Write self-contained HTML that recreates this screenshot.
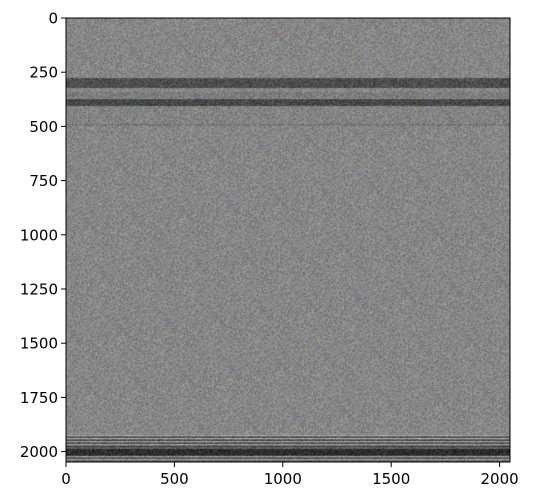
<!DOCTYPE html>
<html><head><meta charset="utf-8"><style>
body{margin:0;background:#fff;width:533px;height:504px;overflow:hidden;font-family:"DejaVu Sans",sans-serif}
#wrap{position:relative;width:533px;height:504px}
canvas{position:absolute;left:66px;top:18px}
svg{position:absolute;left:0;top:0}
</style></head><body><div id="wrap">
<canvas id="img" width="444" height="444"></canvas>
<svg id="ax" width="533" height="504"></svg>
</div>
<script>
// image row bands: start row, end row, gray level (0-255)
const bandStart=[0,  277,341,374,406,490,1923,1930,1937,1944,1951,1958,1965,1972,1979,1988,2020,2027,2034,2041];
const bandEnd  =[277,323,369,406,490,496,1930,1937,1944,1951,1958,1965,1972,1979,1988,2020,2027,2034,2041,2048];
const bandLevel=[135,78, 125,72, 132,112,165, 70, 170, 65, 160, 70, 165, 65, 95, 45, 155, 75, 160, 85];
const xTicks=[0,500,1000,1500,2000];
const yTicks=[0,250,500,750,1000,1250,1500,1750,2000];
const N=2048, L=66, T=18, W=444, H=444;
const sx=v=>L+v/N*W, sy=v=>T+v/N*H;
const c=document.getElementById('img').getContext('2d');
c.fillStyle='rgb(135,135,135)';c.fillRect(0,0,W,H);
for(let i=0;i<bandStart.length;i++){
  const y0=sy(bandStart[i])-T,y1=sy(bandEnd[i])-T,g=bandLevel[i];
  c.fillStyle=`rgb(${g},${g},${g})`;c.fillRect(0,y0,W,Math.max(1,y1-y0));
}
// texture noise (seeded)
let s=12345;const r=()=>(s=(s*1103515245+12345)&0x7fffffff)/0x7fffffff;
const id=c.getImageData(0,0,W,H),d=id.data;
for(let p=0;p<d.length;p+=4){const n=(r()-0.5)*40;d[p]+=n+(r()-0.5)*30;d[p+1]+=n+(r()-0.5)*30;d[p+2]+=n+(r()-0.5)*30;}
c.putImageData(id,0,0);
const svg=document.getElementById('ax'),NS='http://www.w3.org/2000/svg';
function el(t,a,txt){const e=document.createElementNS(NS,t);for(const k in a)e.setAttribute(k,a[k]);if(txt!=null)e.textContent=txt;svg.appendChild(e);return e;}
const fr=el('rect',{x:L,y:T,width:W,height:H,fill:'none',stroke:'#000','stroke-width':1});


xTicks.forEach(v=>{const x=sx(v);
 const t=el('line',{x1:x,x2:x,y1:T+H,y2:T+H+5,stroke:'#000'});
 
 
 const lb=el('text',{x:x,y:T+H+22,'text-anchor':'middle','font-size':15},v);
 
 });
yTicks.forEach(v=>{const y=sy(v);
 const t=el('line',{x1:L-5,x2:L,y1:y,y2:y,stroke:'#000'});
 
 
 const lb=el('text',{x:L-8,y:y+5.5,'text-anchor':'end','font-size':15},v);
 
 });
</script></body></html>
